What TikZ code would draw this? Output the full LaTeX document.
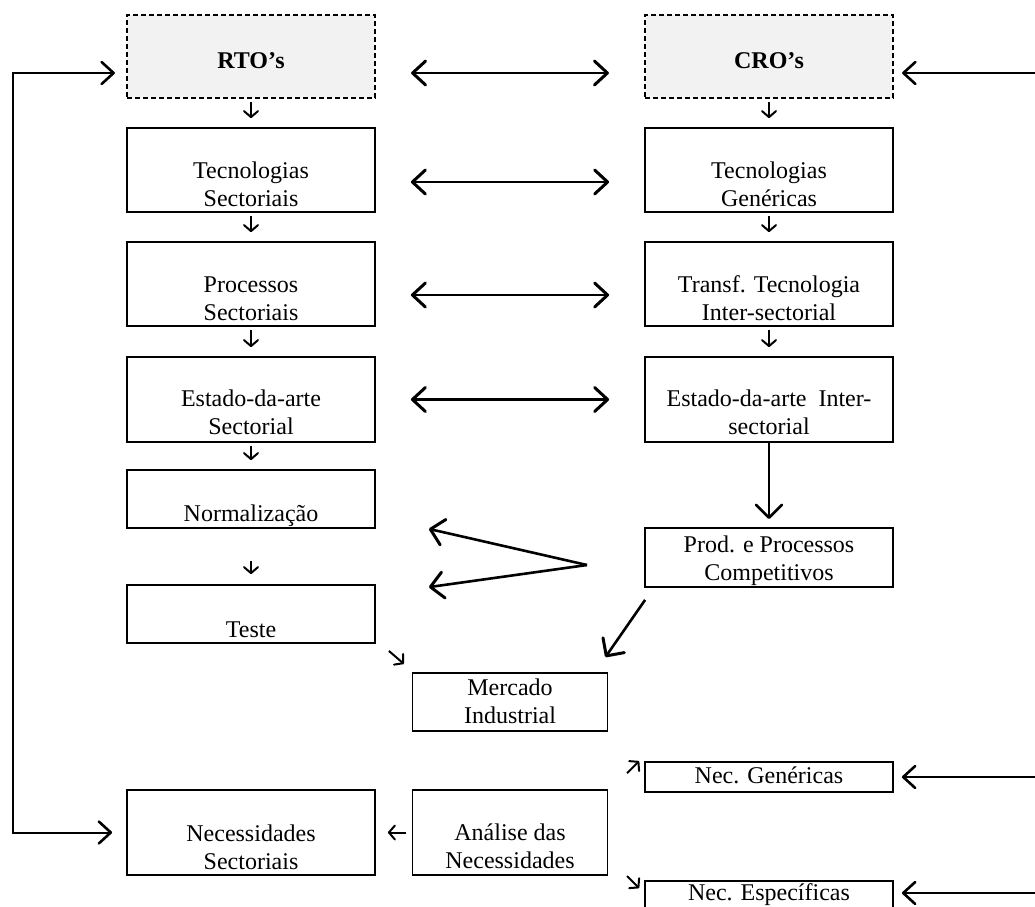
\documentclass[tikz,border=0pt]{standalone}
\usepackage{fontspec}
\setmainfont{Liberation Serif}
\usetikzlibrary{arrows.meta}

\begin{document}
\begin{tikzpicture}[x=1pt, y=-1pt,
    box/.style={draw, line width=1.8pt, inner sep=0pt, align=center, anchor=base,
      minimum width=248pt, font=\fontsize{24}{27.5}\selectfont},
    shadebox/.style={box, fill=black!5, line width=2.2pt, dash pattern=on 5pt off 3pt},
    stub/.style={line width=2pt, -{Straight Barb[length=6pt, width=14pt, round]}},
    twoway/.style={line width=2.2pt, shorten <=35pt, shorten >=35pt,
      {Straight Barb[length=13pt, width=24pt, line width=3pt, round]}-{Straight Barb[length=13pt, width=24pt, line width=3pt, round]}},
    sidearrow/.style={line width=2pt,
      {Straight Barb[length=12pt, width=22pt, line width=2.6pt, round]}-{Straight Barb[length=12pt, width=22pt, line width=2.6pt, round]}},
    sideto/.style={line width=2pt, shorten >=8pt,
      -{Straight Barb[length=12pt, width=22pt, line width=2.6pt, round]}},
    longarrow/.style={line width=2pt, shorten >=8pt,
      -{Straight Barb[length=13pt, width=26pt, line width=2.6pt, round]}},
    fanarrow/.style={line width=2.6pt,
      -{Straight Barb[length=13pt, width=26pt, line width=3pt, round]}}
  ]
    \useasboundingbox (0,0) rectangle (1035,906);
    % Top boxes
    \node[shadebox, text height=53pt, text depth=30pt] (rto) at (251,68) {\bfseries RTO's};
    \node[shadebox, text height=53pt, text depth=30pt] (cro) at (769,68) {\bfseries CRO's};
    % Left column
    \node[box, text height=78pt, text depth=6pt] (tecs) at (251,206) {Tecnologias\\Sectoriais};
    \node[box, text height=78pt, text depth=6pt] (procs) at (251,320) {Processos\\Sectoriais};
    \node[box, text height=77pt, text depth=8pt] (estsec) at (251,434) {Estado-da-arte\\Sectorial};
    \node[box, text height=51pt, text depth=7pt] (norm) at (251,521) {Normalização};
    \node[box, text height=52pt, text depth=6pt] (teste) at (251,637) {Teste};
    \node[box, text height=79pt, text depth=6pt] (necsec) at (251,869) {Necessidades\\Sectoriais};
    % Right column
    \node[box, text height=78pt, text depth=6pt] (tecg) at (769,206) {Tecnologias\\Genéricas};
    \node[box, text height=78pt, text depth=6pt] (transf) at (769,320) {Transf. Tecnologia\\Inter-sectorial};
    \node[box, text height=77pt, text depth=8pt] (estint) at (769,434) {Estado-da-arte~ Inter-\\sectorial};
    \node[box, text height=52pt, text depth=7pt] (prod) at (769,580) {Prod. e Processos\\Competitivos};
    \node[box, text height=21pt, text depth=9pt] (necgen) at (769,783) {Nec. Genéricas};
    \node[box, text height=19pt, text depth=12pt] (necesp) at (769,900) {Nec. Específicas};
    % Middle
    \node[box, minimum width=195pt, text height=50pt, text depth=8pt] (mercado) at (510,723) {Mercado\\Industrial};
    \node[box, minimum width=195pt, text height=78pt, text depth=7pt] (analise) at (510,868) {Análise das\\Necessidades};

    % Arrows between the columns
    \draw[twoway] ([yshift=-16.5pt]rto.east) -- ([yshift=-16.5pt]cro.west);
    \draw[twoway] ([yshift=-12pt]tecs.east) -- ([yshift=-12pt]tecg.west);
    \draw[twoway] ([yshift=-11pt]procs.east) -- ([yshift=-11pt]transf.west);
    \draw[twoway] (estsec.east) -- (estint.west);
    % Small arrows down the columns
    \foreach \a/\b in {rto/tecs, tecs/procs, procs/estsec, estsec/norm, cro/tecg, tecg/transf, transf/estint}
      \draw[stub, shorten <=3pt, shorten >=9pt] (\a.south) -- (\b.north);
    \draw[stub, shorten <=32pt, shorten >=10pt] (norm.south) -- (teste.north);
    \draw[longarrow] (estint.south) -- (prod.north);
    % Products and market
    \coordinate (fan) at (587,565);
    \draw[fanarrow] (fan) -- ([xshift=53pt]norm.south east);
    \draw[fanarrow] (fan) -- ([shift={(53,3)}]teste.north east);
    \draw[fanarrow] ([shift={(1,12)}]prod.south west) -- ([shift={(-3,-15)}]mercado.north east);
    \draw[stub] ([shift={(13,7)}]teste.south east) -- ([shift={(28,20)}]teste.south east);
    % Needs
    \draw[stub, shorten <=6pt, shorten >=12pt] (analise.west) -- (necsec.east);
    \draw[stub] ([shift={(-17,12)}]necgen.north west) -- ([shift={(-5,0)}]necgen.north west);
    \draw[stub] ([shift={(-17,-4)}]necesp.north west) -- ([shift={(-5,8)}]necesp.north west);
    % Outer arrows
    \draw[sidearrow] ([shift={(-11,16.5)}]rto.west) -- ++(-102,0) |- ([xshift=-14pt]necsec.west);
    \coordinate (edge1) at (1035,73);
    \coordinate (edge2) at (1035,777);
    \coordinate (edge3) at (1035,893);
    \draw[sideto] (edge1) -- (edge1 -| cro.east);
    \draw[sideto] (edge2) -- (edge2 -| necgen.east);
    \draw[sideto] (edge3) -- (edge3 -| necesp.east);
\end{tikzpicture}
\end{document}
